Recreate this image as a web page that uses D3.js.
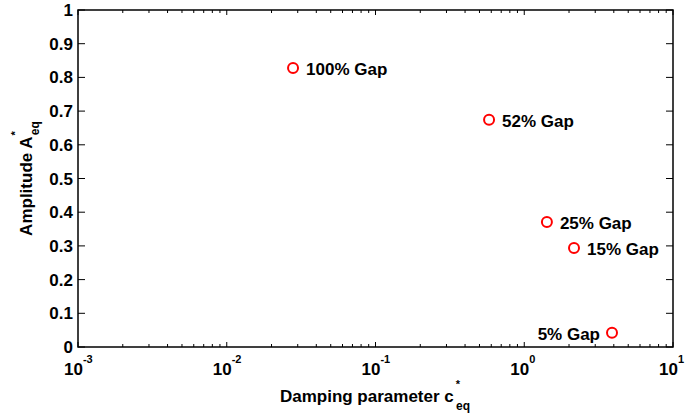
<!DOCTYPE html>
<html>
<head>
<meta charset="utf-8">
<script src="https://cdn.jsdelivr.net/npm/d3@7"></script>
<style>
  body { margin: 0; background: #fff; }
  text { font-family: "Liberation Sans", Arial, sans-serif; font-weight: bold; }
</style>
</head>
<body>
<svg width="696" height="414"></svg>
<script>
let gaps = ['100% Gap', '52% Gap', '25% Gap', '15% Gap', '5% Gap']
let damping = [0.0279, 0.58, 1.42, 2.16, 3.89]
let amplitude = [0.828, 0.674, 0.371, 0.294, 0.042]
let labelSide = ['right', 'right', 'right', 'right', 'left']
let xDecades = [-3, -2, -1, 0, 1]
let yTicks = [0, 0.1, 0.2, 0.3, 0.4, 0.5, 0.6, 0.7, 0.8, 0.9, 1]

let svg = d3.select('svg')
let pLeft = 78, pRight = 673, pTop = 10, pBottom = 347

let x = d3.scaleLog().domain([1e-3, 10]).range([pLeft, pRight])
let y = d3.scaleLinear().domain([0, 1]).range([pBottom, pTop])

// minor ticks on the log axis
let minor = []
xDecades.slice(0, -1).forEach(e => {
    for (let k = 2; k <= 9; k++) minor.push(k * Math.pow(10, e))
})

let g = svg.append('g')

g.selectAll('line.xminor-b')
    .data(minor)
    .enter()
    .append('line')
    .attr('x1', d => x(d)).attr('x2', d => x(d))
    .attr('y1', pBottom).attr('y2', pBottom - 3)
    .attr('stroke', '#000')

g.selectAll('line.xminor-t')
    .data(minor)
    .enter()
    .append('line')
    .attr('x1', d => x(d)).attr('x2', d => x(d))
    .attr('y1', pTop).attr('y2', pTop + 3)
    .attr('stroke', '#000')

g.selectAll('line.xmajor')
    .data(xDecades)
    .enter()
    .append('line')
    .attr('x1', d => x(Math.pow(10, d))).attr('x2', d => x(Math.pow(10, d)))
    .attr('y1', pBottom).attr('y2', pBottom - 5)
    .attr('stroke', '#000')

g.selectAll('line.xmajor-t')
    .data(xDecades)
    .enter()
    .append('line')
    .attr('x1', d => x(Math.pow(10, d))).attr('x2', d => x(Math.pow(10, d)))
    .attr('y1', pTop).attr('y2', pTop + 5)
    .attr('stroke', '#000')

g.selectAll('line.yl')
    .data(yTicks)
    .enter()
    .append('line')
    .attr('x1', pLeft).attr('x2', pLeft + 7)
    .attr('y1', d => y(d)).attr('y2', d => y(d))
    .attr('stroke', '#000')

g.selectAll('line.yr')
    .data(yTicks)
    .enter()
    .append('line')
    .attr('x1', pRight).attr('x2', pRight - 7)
    .attr('y1', d => y(d)).attr('y2', d => y(d))
    .attr('stroke', '#000')

g.append('rect')
    .attr('x', pLeft).attr('y', pTop)
    .attr('width', pRight - pLeft).attr('height', pBottom - pTop)
    .attr('fill', 'none')
    .attr('stroke', '#000')
    .attr('stroke-width', 1.5)

// y tick labels
g.selectAll('text.ylab')
    .data(yTicks)
    .enter()
    .append('text')
    .attr('x', pLeft - 5)
    .attr('y', d => y(d) + 6)
    .attr('text-anchor', 'end')
    .attr('font-size', 17)
    .text(d => d)

// x tick labels 10^e
let xl = g.selectAll('text.xlab')
    .data(xDecades)
    .enter()
    .append('text')
    .attr('x', d => x(Math.pow(10, d)) - 14)
    .attr('y', pBottom + 28)
    .attr('font-size', 17)
xl.append('tspan').text('10')
xl.append('tspan').attr('dy', -12).attr('font-size', 11).text(d => d)

// points
g.selectAll('circle')
    .data(damping)
    .enter()
    .append('circle')
    .attr('cx', d => x(d))
    .attr('cy', (d, i) => y(amplitude[i]))
    .attr('r', 5)
    .attr('fill', 'none')
    .attr('stroke', '#ff0000')
    .attr('stroke-width', 2)

g.selectAll('text.gap')
    .data(gaps)
    .enter()
    .append('text')
    .attr('x', (d, i) => x(damping[i]) + (labelSide[i] === 'right' ? 13 : -12))
    .attr('y', (d, i) => y(amplitude[i]) + 7)
    .attr('text-anchor', (d, i) => labelSide[i] === 'right' ? 'start' : 'end')
    .attr('font-size', 17)
    .text(d => d)

// axis titles
let xt = svg.append('text')
    .attr('x', 375)
    .attr('y', 402)
    .attr('text-anchor', 'middle')
    .attr('font-size', 17)
xt.append('tspan').text('Damping parameter c')
xt.append('tspan').attr('dy', -14).attr('dx', 2).attr('font-size', 11).text('*')
xt.append('tspan').attr('dy', 22).attr('dx', -4).attr('font-size', 12).text('eq')

let yt = svg.append('text')
    .attr('transform', 'translate(32,' + ((pTop + pBottom) / 2) + ') rotate(-90)')
    .attr('text-anchor', 'middle')
    .attr('font-size', 17)
yt.append('tspan').text('Amplitude A')
yt.append('tspan').attr('dy', -13).attr('dx', 1).attr('font-size', 11).text('*')
yt.append('tspan').attr('dy', 20).attr('dx', -4).attr('font-size', 12).text('eq')
</script>
</body>
</html>
